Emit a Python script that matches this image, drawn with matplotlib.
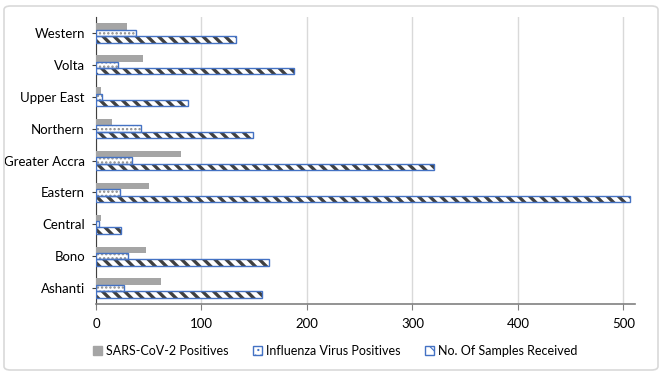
import numpy as np
import matplotlib.pyplot as plt
from matplotlib.patches import FancyBboxPatch, Patch

plt.rcParams['font.family'] = ['Lato', 'DejaVu Sans']

# data (bottom to top)
regioes = ["Ashanti", "Bono", "Central", "Eastern", "Greater Accra",
           "Northern", "Upper East", "Volta", "Western"]
sars = [62, 47, 5, 50, 81, 15, 5, 45, 29]
influenza = [27, 30, 3, 23, 34, 43, 6, 21, 38]
amostras = [157, 164, 24, 506, 320, 149, 87, 188, 133]

azul = "#4472C4"
cinza = "#A5A5A5"
escuro = "#404040"

fig = plt.figure(figsize=(6.64, 3.74), dpi=100)
ax = fig.add_axes([96/664, 1 - 304/374, (635-96)/664, (304-17)/374])

y = np.arange(len(regioes))
h = 0.2

ax.barh(y + h, sars, height=h, color=cinza, linewidth=0, zorder=3)

# dotted series: hatch in gray, then blue outline on top
plt.rcParams['hatch.linewidth'] = 1.1
ax.barh(y, influenza, height=h, color="white", edgecolor="#8a8a8a",
        hatch="....", linewidth=0, zorder=3)
ax.barh(y, influenza, height=h, fill=False, edgecolor=azul, linewidth=1.0, zorder=4)

plt.rcParams['hatch.linewidth'] = 2.4
ax.barh(y - h, amostras, height=h, color="white", edgecolor=escuro,
        hatch="\\\\\\", linewidth=0, zorder=3)
ax.barh(y - h, amostras, height=h, fill=False, edgecolor=azul, linewidth=1.0, zorder=4)

ax.set_xlim(0, 511)
ax.set_ylim(-0.5, len(regioes) - 0.5)
ax.set_yticks(y)
ax.set_yticklabels(regioes, fontsize=9.5)
ax.set_xticks([0, 100, 200, 300, 400, 500])
ax.tick_params(axis='x', labelsize=9.5, length=4, color="#808080", pad=6)
ax.tick_params(axis='y', length=3, color="#404040", pad=5)

ax.grid(axis='x', color="#D9D9D9", linewidth=1, zorder=0)
for s in ["top", "right"]:
    ax.spines[s].set_visible(False)
ax.spines["left"].set_color("#404040")
ax.spines["bottom"].set_color("#808080")
ax.spines["bottom"].set_linewidth(1.2)

plt.rcParams['hatch.linewidth'] = 0.8
handles = [
    Patch(facecolor=cinza, edgecolor=cinza, label="SARS-CoV-2 Positives"),
    Patch(facecolor="white", edgecolor=azul, hatch="...", label="Influenza Virus Positives"),
    Patch(facecolor="white", edgecolor=azul, hatch="\\\\", label="No. Of Samples Received"),
]
fig.legend(handles=handles, loc="center", bbox_to_anchor=(335/664, 1 - 351/374),
           ncol=3, frameon=False, fontsize=9, handlelength=0.7, handleheight=0.7,
           handletextpad=0.3, columnspacing=2.0)

borda = FancyBboxPatch((4/664, 4/374), 654/664, 364/374, transform=fig.transFigure,
                       boxstyle="round,pad=0,rounding_size=0.01", fill=False,
                       edgecolor="#D9D9D9", linewidth=1.2)
fig.patches.append(borda)

fig.savefig("out.png", dpi=100)
